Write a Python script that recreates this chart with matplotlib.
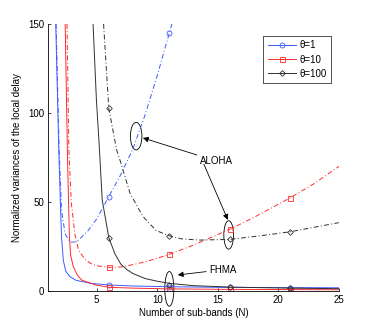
import matplotlib
matplotlib.use("Agg")
import matplotlib.pyplot as plt
from matplotlib.lines import Line2D
from matplotlib.patches import Ellipse

plt.rcParams['font.family'] = ['Liberation Sans', 'DejaVu Sans']
plt.rcParams['font.size'] = 7

# FHMA (solid) curves
fh_blue_n = [1.62, 1.87, 2.0, 2.1, 2.25, 2.45, 2.8, 3.3, 4.5, 6, 8, 11, 16, 21, 25]
fh_blue_v = [150, 79, 50, 30, 17, 11, 8, 6, 4.3, 3.4, 2.8, 2.4, 2.0, 1.9, 1.8]
fh_red_n = [2.4, 2.58, 2.67, 2.75, 2.85, 3.07, 3.4, 3.75, 4.9, 6, 8, 11, 16, 21, 25]
fh_red_v = [150, 79, 51, 30, 20, 13.7, 9, 6.2, 3.4, 2.1, 1.6, 1.2, 0.9, 0.8, 0.7]
fh_black_n = [4.7, 4.98, 5.19, 5.46, 6, 6.5, 7, 7.5, 8, 9, 10, 11, 13, 16, 21, 25]
fh_black_v = [150, 107, 84, 51, 30, 21, 15, 12, 9.8, 7, 5.5, 4.3, 3.0, 2.2, 1.6, 1.3]

# ALOHA (dash-dot) curves
al_blue_n = [1.65, 1.9, 2.1, 2.4, 2.8, 3.2, 3.5, 4.3, 5, 6, 7, 8, 9, 10, 11, 11.3]
al_blue_v = [150, 80, 45, 32, 27.5, 27.5, 28.6, 34, 40.5, 53, 65.5, 80, 99, 121, 145, 152]
al_red_n = [2.55, 2.7, 2.9, 3.2, 3.5, 4, 4.5, 5, 6, 7, 8, 9, 10, 11, 13, 16, 18, 21, 23, 25]
al_red_v = [150, 80, 50, 32, 23, 18, 15.5, 14.2, 13.3, 13.5, 14.8, 16.4, 18.4, 20.6, 25.8,
            34.7, 41.4, 52.4, 60.5, 70]
al_black_n = [5.57, 6, 6.65, 6.92, 7.75, 8.8, 9.9, 11, 12, 13.5, 16, 18.5, 21, 25]
al_black_v = [150, 102.6, 79.2, 73.6, 55, 42, 34, 31, 29.3, 28.6, 29, 31, 33.3, 38.4]

# marker points
mark_n = [6, 11, 16, 21]
fh_blue_m = [3.4, 2.4, 2.0, 1.9]
fh_red_m = [2.1, 1.2, 0.9, 0.8]
fh_black_m = [30, 3.6, 2.0, 1.5]
al_blue_m = [53, 145]
al_red_m = [13.3, 20.6, 34.7, 52.4]
al_black_m = [102.6, 31, 29, 33.3]

blue = '#3a5cff'
red = '#ff2a2a'
black = '#303030'
dashdot = (0, (5, 2.4, 1, 2.4))
lw = 0.7
ms = 3.6

fig = plt.figure(figsize=(3.74, 3.28), dpi=100)
ax = fig.add_axes([0.129, 0.1128, 0.777, 0.814])

for n, v, m, c, mk in [(fh_blue_n, fh_blue_v, fh_blue_m, blue, 'o'),
                        (fh_red_n, fh_red_v, fh_red_m, red, 's'),
                        (fh_black_n, fh_black_v, fh_black_m, black, 'D')]:
    ax.plot(n, v, color=c, lw=lw)
    ax.plot(mark_n, m, ls='none', marker=mk, mfc='none', mec=c, mew=0.6,
            ms=ms if mk != 'D' else ms * 0.8)

for n, v, m, c, mk in [(al_blue_n, al_blue_v, al_blue_m, blue, 'o'),
                        (al_red_n, al_red_v, al_red_m, red, 's'),
                        (al_black_n, al_black_v, al_black_m, black, 'D')]:
    ax.plot(n, v, color=c, lw=lw, ls=dashdot)
    ax.plot(mark_n[:len(m)], m, ls='none', marker=mk, mfc='none', mec=c, mew=0.6,
            ms=ms if mk != 'D' else ms * 0.8)

ax.set_xlim(1, 25)
ax.set_ylim(0, 150)
ax.set_xticks([5, 10, 15, 20, 25])
ax.set_yticks([0, 50, 100, 150])
ax.tick_params(direction='in', length=2.5, width=0.5, pad=3)
for s in ['top', 'right']:
    ax.spines[s].set_visible(False)
for s in ['left', 'bottom']:
    ax.spines[s].set_linewidth(0.6)
ax.set_xlabel("Number of sub-bands (N)", labelpad=2)
ax.set_ylabel("Normalized variances of the local delay", labelpad=4)

# annotation ellipses
ax.add_patch(Ellipse((8.26, 87), 0.95, 15.5, fill=False, lw=0.6, ec='k'))
ax.add_patch(Ellipse((15.9, 31.5), 0.8, 16, fill=False, lw=0.6, ec='k'))
ax.add_patch(Ellipse((11.0, 1.2), 0.75, 19.5, fill=False, lw=0.6, ec='k', clip_on=False))

arrow = dict(arrowstyle='-|>', color='k', lw=0.6, mutation_scale=8, shrinkA=0, shrinkB=0)
ax.annotate("ALOHA", xy=(8.82, 86), xytext=(13.5, 73), va='center', ha='left',
            arrowprops=arrow)
ax.annotate("", xy=(15.83, 40), xytext=(13.85, 71.3), arrowprops=arrow)
ax.annotate("FHMA", xy=(11.7, 9.0), xytext=(14.27, 12), va='center', ha='left',
            arrowprops=arrow)

handles = [Line2D([], [], color=blue, lw=lw, marker='o', mfc='none', ms=ms, mew=0.6),
           Line2D([], [], color=red, lw=lw, marker='s', mfc='none', ms=ms, mew=0.6),
           Line2D([], [], color=black, lw=lw, marker='D', mfc='none', ms=ms * 0.8, mew=0.6)]
leg = ax.legend(handles, ['\u03b8=1', '\u03b8=10', '\u03b8=100'], loc='upper left',
                bbox_to_anchor=(0.74, 0.956), borderaxespad=0, fancybox=False,
                handlelength=2.9, handletextpad=0.4, labelspacing=0.45, borderpad=0.45)
leg.get_frame().set_edgecolor('k')
leg.get_frame().set_linewidth(0.6)

fig.savefig("out.png", dpi=100)
